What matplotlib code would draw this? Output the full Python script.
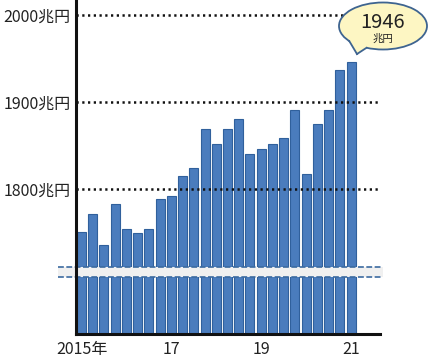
import numpy as np
import matplotlib
matplotlib.use("Agg")
import matplotlib.pyplot as plt
from matplotlib.patches import Ellipse, Polygon
from matplotlib.lines import Line2D

plt.rcParams['font.family'] = ['Noto Sans CJK JP', 'DejaVu Sans']

# quarterly values, 2015 Q1 .. 2021 Q1 (兆円)
values = [1750, 1771, 1735, 1783, 1754, 1749, 1754, 1788, 1792,
          1815, 1824, 1869, 1852, 1869, 1880, 1840, 1846, 1852,
          1858, 1890, 1817, 1875, 1890, 1936, 1946]
xtick_pos = [0, 8, 16, 24]
xtick_labels = ['2015年', '17', '19', '21']
ytick_vals = [1800, 1900, 2000]
ytick_labels = ['1800兆円', '1900兆円', '2000兆円']
break_band = (1698, 1710)
y_bottom, y_top = 1633, 2017
callout_main = '1946'
callout_unit = '兆円'

W, H = 428, 358
fig = plt.figure(figsize=(W / 100, H / 100), dpi=100)
ax = fig.add_axes([76 / W, 24 / H, (380 - 76) / W, 1 - 24 / H])

bar_face = '#4a7cbd'
bar_edge = '#30609c'
x = np.arange(len(values))
heights = np.array(values) - y_bottom
ax.bar(x, heights, bottom=y_bottom, width=0.8, color=bar_face,
       edgecolor=bar_edge, linewidth=0.8, zorder=2)

ax.set_xlim(-0.49, 26.58)
ax.set_ylim(y_bottom, y_top)

# dotted gridlines over the bars
for v in ytick_vals:
    ax.axhline(v, color='#111111', linestyle=(0, (0.9, 1.4)), linewidth=1.8,
               zorder=3)

# axis break band
ax.axhspan(break_band[0], break_band[1], xmin=-0.06, xmax=1.01,
           facecolor='#f0f0f0', edgecolor='none', zorder=4, clip_on=False)
for v in break_band:
    ax.plot([-2.1, 26.7], [v, v], color='#3b6aa0', linestyle=(0, (3.5, 1.5)),
            linewidth=1.2, zorder=5, clip_on=False)

for s in ['top', 'right']:
    ax.spines[s].set_visible(False)
for s in ['left', 'bottom']:
    ax.spines[s].set_linewidth(2.2)
    ax.spines[s].set_color('#111111')
    ax.spines[s].set_zorder(6)

ax.set_yticks(ytick_vals)
ax.set_yticklabels(ytick_labels, fontsize=11.5, color='#222222')
ax.set_xticks(xtick_pos)
ax.set_xticklabels(xtick_labels, fontsize=11.5, color='#222222')
ax.tick_params(axis='y', length=0, pad=4)
ax.tick_params(axis='x', length=0, pad=5)

# callout bubble (in pixel coordinates converted to figure fraction)
def fp(px, py):
    return (px / W, 1 - py / H)

face = '#fdf6c3'
edge = '#3e6490'
cx, cy, a, b = 383, 26, 44, 23.5
ell = Ellipse(fp(cx, cy), 2 * a / W, 2 * b / H, transform=fig.transFigure,
              facecolor=face, edgecolor=edge, linewidth=1.3, zorder=10)
fig.add_artist(ell)
t1, t2 = np.radians(140), np.radians(112)
pA = (cx + a * np.cos(t1), cy + b * np.sin(t1))
pB = (cx + a * np.cos(t2), cy + b * np.sin(t2))
tip = (357, 54)
inA = (cx + (a - 2) * np.cos(t1), cy + (b - 2) * np.sin(t1))
inB = (cx + (a - 2) * np.cos(t2), cy + (b - 2) * np.sin(t2))
tail = Polygon([fp(*inA), fp(*pA), fp(*tip), fp(*pB), fp(*inB)],
               closed=True, transform=fig.transFigure, facecolor=face,
               edgecolor='none', zorder=11)
fig.add_artist(tail)
for p in (pA, pB):
    fig.add_artist(Line2D([fp(*p)[0], fp(*tip)[0]], [fp(*p)[1], fp(*tip)[1]],
                          transform=fig.transFigure, color=edge,
                          linewidth=1.3, zorder=12))
fig.text(*fp(383, 22), callout_main, fontsize=14.5, ha='center', va='center',
         color='#222222', zorder=13)
fig.text(*fp(383, 39), callout_unit, fontsize=7.5, ha='center', va='center',
         color='#222222', zorder=13)

fig.savefig('out.png', dpi=100)
